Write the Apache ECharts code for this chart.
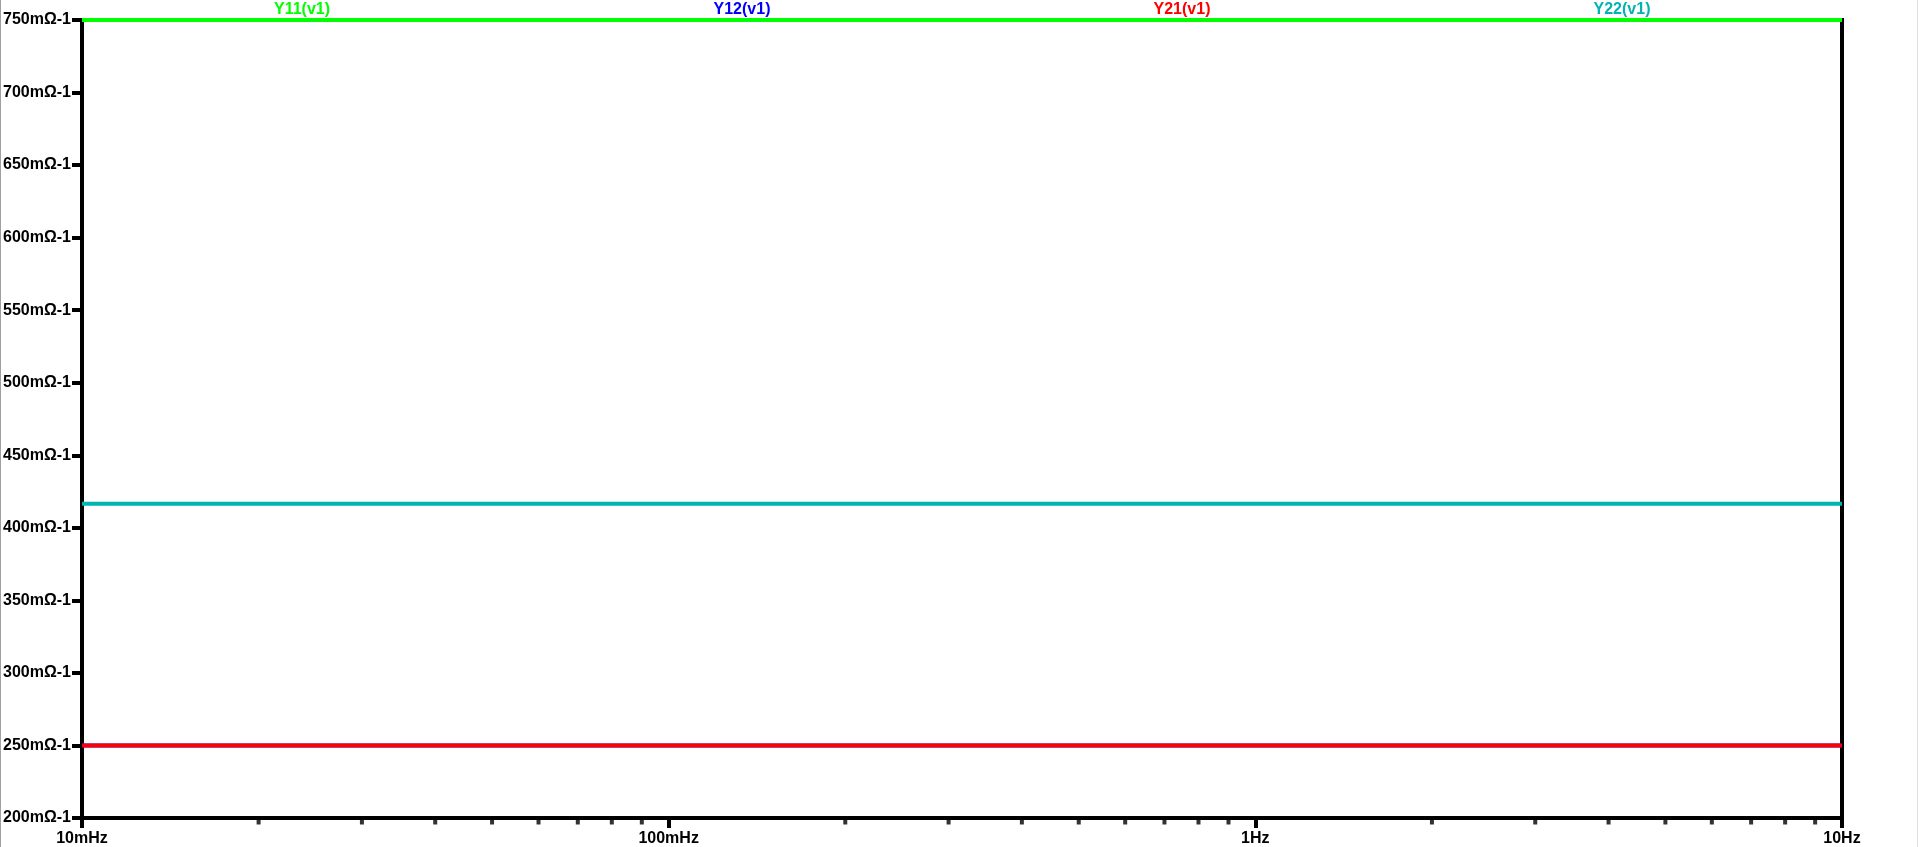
<!DOCTYPE html>
<html>
<head>
<meta charset="utf-8">
<script src="https://cdn.jsdelivr.net/npm/echarts@6/dist/echarts.min.js"></script>
<style>
html,body{margin:0;padding:0;background:#fff;}
#chart{width:1919px;height:847px;position:relative;}
#bl{position:absolute;left:0;top:0;width:1px;height:847px;background:#a0a0a0;}
#br{position:absolute;left:1917px;top:0;width:1px;height:847px;background:#e0e0e0;}
</style>
</head>
<body>
<div id="chart"></div>
<div id="bl"></div><div id="br"></div>
<script>
// Data
const freqs = [0.01, 0.1, 1, 10];                 // Hz
const y11 = [750, 750, 750, 750];                 // mΩ-1
const y12 = [250, 250, 250, 250];
const y21 = [250, 250, 250, 250];
const y22 = [416.67, 416.67, 416.67, 416.67];
const seriesNames = ['Y11(v1)', 'Y12(v1)', 'Y21(v1)', 'Y22(v1)'];
const seriesColors = ['#00ff00', '#0000ff', '#ff0000', '#00b4b4'];
const xTickValues = [0.01, 0.1, 1, 10];
const xTickLabels = ['10mHz', '100mHz', '1Hz', '10Hz'];
const xMinorTicks = [0.02,0.03,0.04,0.05,0.06,0.07,0.08,0.09,
                     0.2,0.3,0.4,0.5,0.6,0.7,0.8,0.9,
                     2,3,4,5,6,7,8,9];
const yMin = 200, yMax = 750, yStep = 50, yUnit = 'mΩ-1';

const gridL = 82, gridR = 77, gridT = 20, gridB = 29;
const plotW = 1919 - gridL - gridR;

const chart = echarts.init(document.getElementById('chart'), null, {renderer: 'canvas'});
const pair = (xs, ys) => xs.map((x, i) => [x, ys[i]]);
const allY = [y11, y12, y21, y22];

const font = '"Liberation Sans", Arial, sans-serif';

chart.setOption({
  animation: false,
  backgroundColor: '#fff',
  title: seriesNames.map((n, i) => ({
    text: n,
    left: gridL + plotW * (i + 0.5) / 4,
    top: 2,
    padding: 0,
    textAlign: 'center',
    textStyle: {color: seriesColors[i], fontSize: 16, fontWeight: 'bold', fontFamily: font, lineHeight: 16}
  })),
  grid: {
    left: gridL, right: gridR, top: gridT, bottom: gridB,
    show: true, borderColor: '#000', borderWidth: 4, backgroundColor: '#fff'
  },
  xAxis: {
    type: 'log', logBase: 10, min: 0.01, max: 10,
    axisLine: {show: true, onZero: false, lineStyle: {color: '#000', width: 4}},
    axisTick: {show: true, inside: false, length: 10, lineStyle: {color: '#000', width: 4}},
    splitLine: {show: false},
    minorTick: {show: false},
    axisLabel: {
      show: true, margin: 13, color: '#000', fontSize: 16, fontWeight: 'bold', fontFamily: font,
      showMinLabel: true, showMaxLabel: true,
      formatter: v => {
        const idx = xTickValues.findIndex(t => Math.abs(Math.log10(t) - Math.log10(v)) < 1e-6);
        return idx >= 0 ? xTickLabels[idx] : '';
      }
    }
  },
  yAxis: {
    type: 'value', min: yMin, max: yMax, interval: yStep,
    axisLine: {show: true, onZero: false, lineStyle: {color: '#000', width: 4}},
    axisTick: {show: true, inside: false, length: 10, lineStyle: {color: '#000', width: 4}},
    splitLine: {show: false},
    axisLabel: {
      show: true, margin: 11, color: '#000', fontSize: 16, fontWeight: 'bold', fontFamily: font,
      showMinLabel: true, showMaxLabel: true,
      formatter: v => v + yUnit
    }
  },
  series: [
    {
      type: 'scatter', name: 'minorTicks', silent: true, clip: false,
      symbol: 'rect', symbolSize: [4, 5], symbolOffset: [0, 4],
      itemStyle: {color: '#000'},
      data: xMinorTicks.map(f => [f, yMin]), z: 1
    }
  ].concat(allY.map((ys, i) => ({
    type: 'line', name: seriesNames[i], data: pair(freqs, ys),
    showSymbol: false, symbol: 'none', clip: false,
    lineStyle: {color: seriesColors[i], width: 4},
    z: 2 + (i === 0 ? 10 : i)
  })))
});
</script>
</body>
</html>
